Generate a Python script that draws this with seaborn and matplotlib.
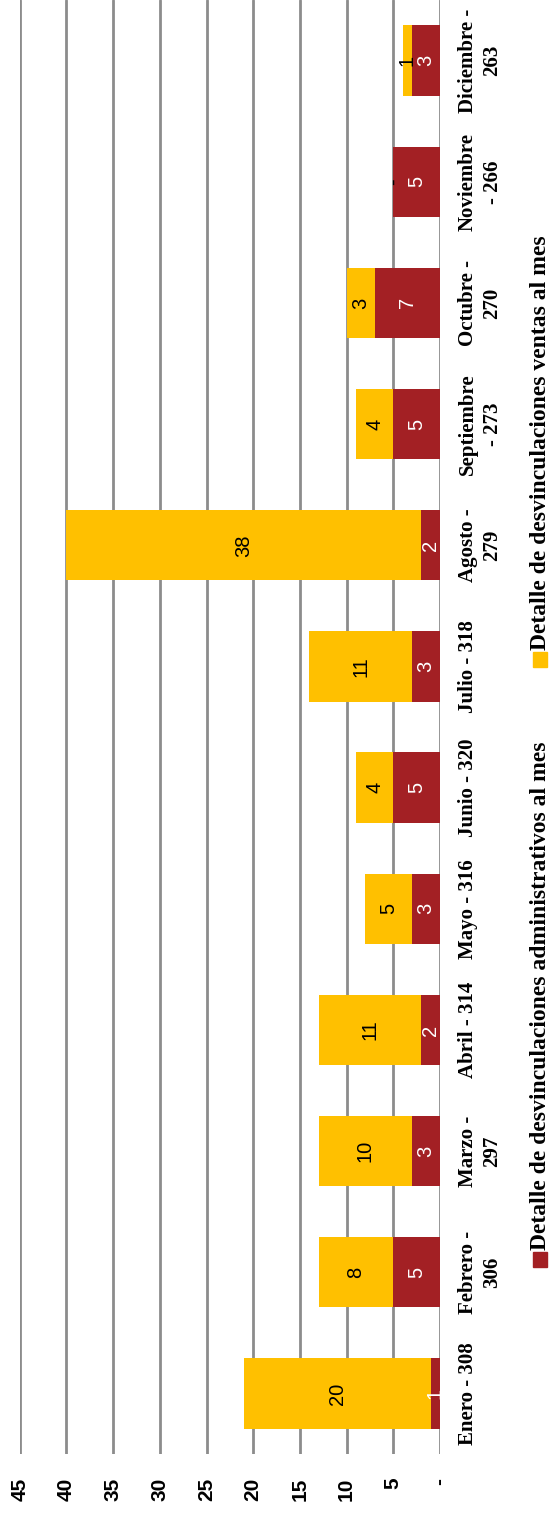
import numpy as np
import pandas as pd
import seaborn as sns
import matplotlib.pyplot as plt
from matplotlib.patches import Rectangle

meses = ["Enero - 308", "Febrero -\n306", "Marzo -\n297", "Abril - 314", "Mayo - 316",
         "Junio - 320", "Julio - 318", "Agosto -\n279", "Septiembre\n- 273",
         "Octubre -\n270", "Noviembre\n- 266", "Diciembre -\n263"]
administrativos = [1, 5, 3, 2, 3, 5, 3, 2, 5, 7, 5, 3]
ventas = [20, 8, 10, 11, 5, 4, 11, 38, 4, 3, 0, 1]
serie_admin = "Detalle de desvinculaciones administrativos al mes"
serie_ventas = "Detalle de desvinculaciones ventas al mes"

rojo = "#A32024"
amarillo = "#FFC000"

df = pd.DataFrame({"mes": meses, "admin": administrativos, "ventas": ventas})
df["total"] = df["admin"] + df["ventas"]
orden = meses[::-1]  # Enero abajo

sns.set_style("white")
plt.rcParams["font.family"] = ["Liberation Serif", "DejaVu Serif"]
plt.rcParams["text.color"] = "black"
plt.rcParams["xtick.color"] = "black"
plt.rcParams["ytick.color"] = "black"

fig = plt.figure(figsize=(5.5, 15.14), dpi=100)
ax = fig.add_axes([0.036, 0.0396, 0.764, 0.9604])

# barra total (amarilla) y encima la parte administrativa (roja)
sns.barplot(data=df, x="total", y="mes", order=orden, orient="h", color=amarillo,
            width=0.58, saturation=1, linewidth=0, ax=ax, zorder=3)
sns.barplot(data=df, x="admin", y="mes", order=orden, orient="h", color=rojo,
            width=0.58, saturation=1, linewidth=0, ax=ax, zorder=3)

ax.set_xlim(45, 0)
ax.set_ylim(len(meses) - 0.5, -0.5)
ax.set_xticks(range(0, 50, 5))
ax.set_xticklabels(["-"] + [str(v) for v in range(5, 50, 5)], rotation=90,
                   fontsize=15, fontweight="bold", family="Liberation Sans", color="black")
ax.xaxis.grid(True, color="#8C8C8C", linewidth=2, zorder=0)
ax.set_axisbelow(True)
ax.tick_params(axis="x", length=0, pad=17)
ax.yaxis.tick_right()
ax.tick_params(axis="y", length=0, pad=13)
for lab in ax.get_yticklabels():
    lab.set_rotation(90)
    lab.set_va("center")
    lab.set_ha("left")
    lab.set_multialignment("center")
    lab.set_linespacing(1.3)
    lab.set_fontsize(15)
    lab.set_fontweight("bold")
    lab.set_color("black")
ax.set_xlabel("")
ax.set_ylabel("")
for s in ax.spines.values():
    s.set_visible(False)

# etiquetas de valor
for i, mes in enumerate(orden):
    fila = df[df["mes"] == mes].iloc[0]
    ax.text(fila["admin"] / 2, i, str(fila["admin"]), rotation=90, ha="center", va="center",
            color="white", fontsize=14.5, family="Liberation Sans", zorder=5)
    txt = "-" if fila["ventas"] == 0 else str(fila["ventas"])
    ax.text(fila["admin"] + fila["ventas"] / 2, i, txt, rotation=90, ha="center",
            va="center", color="black", fontsize=14.5, family="Liberation Sans", zorder=5)

# leyenda girada
fig.add_artist(Rectangle((0.969, 1 - 1267 / 1514), 0.025, 15 / 1514, transform=fig.transFigure,
                         color=rojo))
fig.text(0.982, 1 - 1250 / 1514, serie_admin, rotation=90, ha="center", va="bottom",
         fontsize=17, fontweight="bold", color="black")
fig.add_artist(Rectangle((0.969, 1 - 667 / 1514), 0.025, 15 / 1514, transform=fig.transFigure,
                         color=amarillo))
fig.text(0.982, 1 - 650 / 1514, serie_ventas, rotation=90, ha="center", va="bottom",
         fontsize=17, fontweight="bold", color="black")

fig.savefig("out.png", dpi=100)
